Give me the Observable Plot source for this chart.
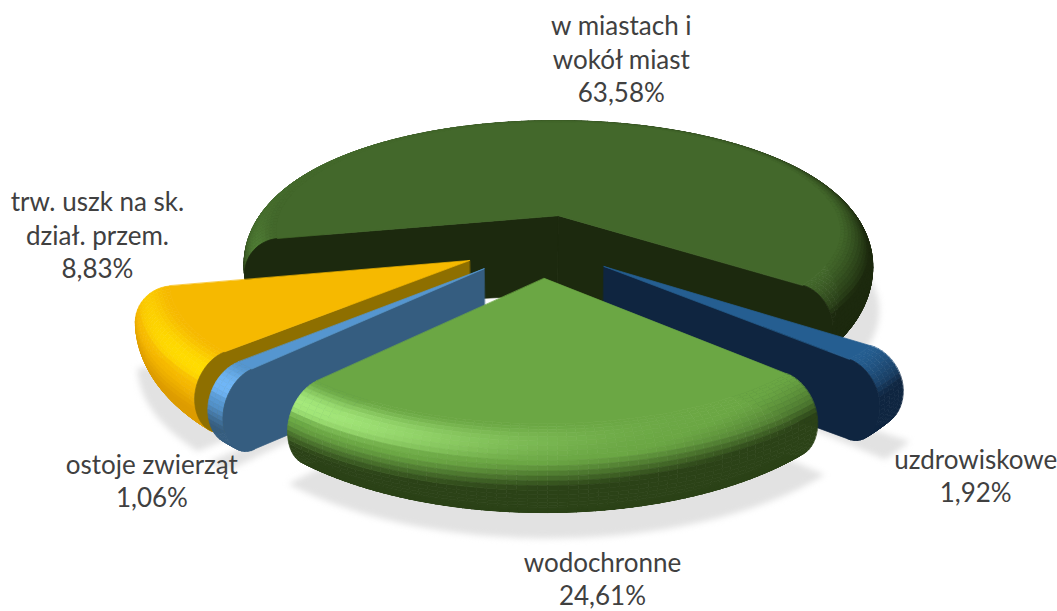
<!DOCTYPE html>
<html lang="pl">
<head>
<meta charset="utf-8">
<style>html,body{margin:0;padding:0;background:#fff}svg{display:block}</style>
<script src="https://cdn.jsdelivr.net/npm/d3@7"></script>
<script src="https://cdn.jsdelivr.net/npm/@observablehq/plot@0.6"></script>
</head>
<body>
<div id="chart"></div>
<script>
// Data (clockwise around the pie)
const sliceNames = ["w miastach i\nwokół miast", "uzdrowiskowe", "wodochronne", "ostoje zwierząt", "trw. uszk na sk.\ndział. przem."];
const sliceShares = [63.58, 1.92, 24.61, 1.06, 8.83];
const shareLabels = ["63,58%", "1,92%", "24,61%", "1,06%", "8,83%"];

// Style
const topColors = ["#43682b", "#255e91", "#6ba744", "#5596d0", "#f6b900"];
const wallColors = ["#1c290e", "#0f2540", "#2b4217", "#355d80", "#8e6f00"];
const darkColors = ["#1c290e", "#0f2540", "#2b4217", "#355d80", "#dd9c00"];
const glowColors = ["#5d9340", "#2f72ab", "#a6ea7c", "#70b6f7", "#ffdc00"];
const drawOrder = [0, 4, 3, 1, 2];
const labelShift = [[12, -66], [115, 122], [46, 154], [-93, 114], [-87, -86]];

// Layout of the 3D pie
const view = {cx: 541, cy: 245, startAngle: 168, explode: 80, topR: 290, bevel: 35,
  tilt: 0.395, persp: 0.000486, midZ: 38, edgeZ: 78, tipZ: 90};
const cosTilt = Math.sqrt(1 - view.tilt * view.tilt);
const rad = (a) => a * Math.PI / 180;

function project(X, Y, Z) {
  const s = 1 / (1 + view.persp * (Y - view.tilt / cosTilt * Z));
  return [view.cx + X * s, view.cy - (Y * view.tilt + Z * cosTilt) * s];
}
function profile(t) {
  const {topR: R, bevel: B, midZ: A, edgeZ: E} = view;
  if (t <= 0.5) {
    const u = (t / 0.5) * Math.PI / 2;
    return [R + B * Math.sin(u), -A * (1 - Math.cos(u))];
  }
  const v = ((t - 0.5) / 0.5) * Math.PI / 2;
  return [R + B - 0.9 * B * (1 - Math.cos(v)), -A - (E - A) * Math.sin(v)];
}
const light = (() => {
  const l = [-0.5, -0.5, 0.71], n = Math.hypot(...l);
  return l.map((d) => d / n);
})();

function shade(i, nx, ny, nz, t) {
  const I = nx * light[0] + ny * light[1] + nz * light[2]
    - 1.0 * Math.pow(Math.max(0, (t - 0.3) / 0.45), 1.1);
  const I0 = light[2];
  if (I >= I0) return d3.interpolateRgb(topColors[i], glowColors[i])(Math.pow((I - I0) / (1 - I0), 2.4));
  return d3.interpolateRgb(darkColors[i], topColors[i])(Math.pow(Math.max(0, I / I0), 1.1));
}

const total = d3.sum(sliceShares);
let cursor = view.startAngle;
const wedges = sliceShares.map((share, i) => {
  const a0 = cursor, a1 = cursor + share / total * 360;
  cursor = a1;
  const mid = rad((a0 + a1) / 2);
  return {i, a0, a1, ox: view.explode * Math.cos(mid), oy: -view.explode * Math.sin(mid), mid};
});

const faces = [], shadows = [], labels = [];
let faceId = 0;
function addFace(poly, c, list = faces) {
  const id = faceId++;
  for (const [x, y] of poly) list.push({id, x, y, c});
}
function at(w, r, a, z) {
  return project(w.ox + r * Math.cos(a), w.oy - r * Math.sin(a), z);
}
function angles(w, step = 1.5) {
  const n = Math.max(3, Math.ceil((w.a1 - w.a0) / step));
  return d3.range(n + 1).map((k) => rad(w.a0 + (w.a1 - w.a0) * k / n));
}

// Ground shadows: the outer part of each wedge, lowered under the pie
for (const w of wedges) {
  const as = angles(w, 3), poly = [];
  for (const a of as) poly.push(at(w, view.topR + 40, a, -view.edgeZ - 6));
  for (const a of as.slice().reverse()) poly.push(at(w, view.topR * 0.55, a, -view.edgeZ - 6));
  addFace(poly.map(([x, y]) => [x + 4, y]), "#e2e2e2", shadows);
}

const bands = 28;
for (const idx of drawOrder) {
  const w = wedges[idx], i = w.i, as = angles(w);
  // rim facets, far ones first
  const facets = [];
  for (let b = 0; b < bands; b++) {
    const [r0, z0] = profile(b / bands), [r1, z1] = profile((b + 1) / bands);
    const len = Math.hypot(r1 - r0, z1 - z0), nr = -(z1 - z0) / len, nz = (r1 - r0) / len;
    for (let k = 0; k < as.length - 1; k++) {
      const a = (as[k] + as[k + 1]) / 2;
      facets.push({
        depth: w.oy - r0 * Math.sin(a),
        c: shade(i, nr * Math.cos(a), -nr * Math.sin(a), nz, (b + 0.5) / bands),
        poly: [at(w, r0, as[k], z0), at(w, r0, as[k + 1], z0), at(w, r1, as[k + 1], z1), at(w, r1, as[k], z1)]
      });
    }
  }
  facets.sort((p, q) => q.depth - p.depth);
  for (const f of facets) addFace(f.poly, f.c);
  // cut walls that face the viewer
  const walls = [];
  if (-Math.cos(rad(w.a0)) > 0) walls.push(rad(w.a0));
  if (Math.cos(rad(w.a1)) > 0) walls.push(rad(w.a1));
  for (const a of walls) {
    const poly = [at(w, 0, a, 0)];
    for (let b = 0; b <= bands; b++) {
      const [r, z] = profile(b / bands);
      poly.push(at(w, r, a, z));
    }
    poly.push(at(w, 0, a, -view.tipZ));
    addFace(poly, wallColors[i]);
  }
  // flat top
  const top = [at(w, 0, 0, 0)];
  for (const a of as) top.push(at(w, view.topR, a, 0));
  addFace(top, topColors[i]);
}

for (const w of wedges) {
  const [x, y] = at(w, view.topR, w.mid, 0);
  labels.push({x: x + labelShift[w.i][0], y: y + labelShift[w.i][1], text: sliceNames[w.i] + "\n" + shareLabels[w.i]});
}

const chart = Plot.plot({
  width: 1057, height: 611,
  margin: 0, marginTop: 0, marginRight: 0, marginBottom: 0, marginLeft: 0,
  x: {domain: [0, 1057], range: [0, 1057], axis: null},
  y: {domain: [0, 611], range: [0, 611], axis: null},
  color: {type: "identity"},
  style: {background: "#fff"},
  marks: [
    Plot.line(shadows, {x: "x", y: "y", z: "id", fill: "c", stroke: "c", curve: "linear-closed", imageFilter: "blur(3px)"}),
    Plot.line(faces, {x: "x", y: "y", z: "id", fill: "c", stroke: "c", strokeWidth: 0.7, curve: "linear-closed"}),
    Plot.text(labels, {x: "x", y: "y", text: "text", fontFamily: "Lato", fontSize: 26, lineHeight: 1.29, fill: "#404040"})
  ]
});
document.getElementById("chart").append(chart);
</script>
</body>
</html>
